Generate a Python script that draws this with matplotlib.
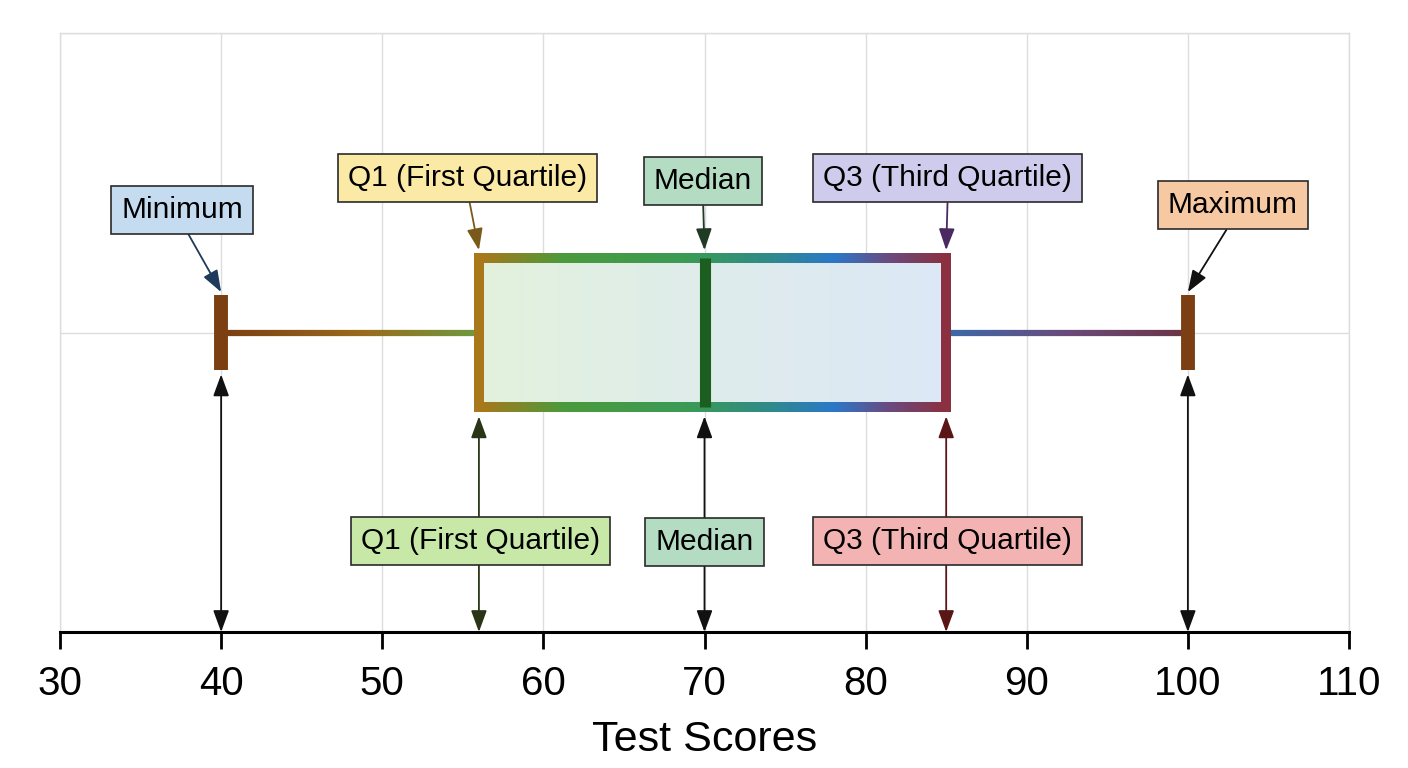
import numpy as np
import matplotlib
matplotlib.use("Agg")
import matplotlib.pyplot as plt
from matplotlib.collections import LineCollection
from matplotlib.colors import LinearSegmentedColormap

# five number summary
stat_names = ["Minimum", "Q1", "Median", "Q3", "Maximum"]
stat_values = [40, 56, 70, 85, 100]
x_ticks = [30, 40, 50, 60, 70, 80, 90, 100, 110]
x_label = "Test Scores"

top_texts = ["Minimum", "Q1 (First Quartile)", "Median", "Q3 (Third Quartile)", "Maximum"]
bottom_texts = ["Q1 (First Quartile)", "Median", "Q3 (Third Quartile)"]

vmin, q1, med, q3, vmax = stat_values

# layout / style (not data)
top_pos = [(37.6, 1.41), (55.3, 1.515), (69.9, 1.505), (85.1, 1.515), (102.8, 1.425)]
top_face = ["#c5dcf0", "#fbe9a6", "#b3dcc2", "#cfcbec", "#f6c9a3"]
top_arrow = ["#1f3a5a", "#7a5a1a", "#1f3a25", "#4a2a60", "#111111"]
bottom_face = ["#c8e8a8", "#b3dcc2", "#f3b3b3"]
bottom_arrow = ["#2a3518", "#111111", "#5a1515"]
box_lo, box_hi = 0.75, 1.25
cap_half = 0.125

label_font = ["Liberation Sans Narrow", "Liberation Sans", "DejaVu Sans"]
plt.rcParams["font.family"] = ["Liberation Sans", "DejaVu Sans"]


def grad_line(ax, x0, x1, y, colors, lw, n=300, z=3):
    xs = np.linspace(x0, x1, n + 1)
    segs = [[(xs[i], y), (xs[i + 1], y)] for i in range(n)]
    cmap = LinearSegmentedColormap.from_list("g", colors)
    lc = LineCollection(segs, colors=cmap(np.linspace(0, 1, n)),
                        linewidths=lw, capstyle="butt", zorder=z)
    ax.add_collection(lc)


fig = plt.figure(figsize=(14.08, 7.68), dpi=100)
ax = fig.add_axes([60 / 1408, 136 / 768, 1289 / 1408, 599 / 768])

# box fill gradient
fill_cmap = LinearSegmentedColormap.from_list("fill", ["#e2f2dc", "#dfecec", "#dce8f6"])
ax.imshow(np.linspace(0, 1, 256)[None, :], extent=[q1, q3, box_lo, box_hi],
          aspect="auto", cmap=fill_cmap, zorder=2, interpolation="bilinear")

# whiskers
grad_line(ax, vmin, q1, 1.0, [(0, "#7a3e12"), (0.55, "#9a6a1c"), (1, "#6e9a3e")], 4.5)
grad_line(ax, q3, vmax, 1.0, [(0, "#3a6aaa"), (0.5, "#6a4a7a"), (1, "#6a3545")], 4.5)

# box edges
edge_cols = [(0, "#a8781a"), (0.18, "#4a9a3c"), (0.45, "#3a9a55"), (0.62, "#2f8a88"),
             (0.76, "#2a78c8"), (0.88, "#6a4a80"), (1, "#8a3040")]
grad_line(ax, q1, q3, box_hi, edge_cols, 7.2, z=4)
grad_line(ax, q1, q3, box_lo, edge_cols, 7.2, z=4)
ax.plot([q1, q1], [box_lo, box_hi], color="#a8781a", lw=7.2, solid_capstyle="projecting", zorder=4)
ax.plot([q3, q3], [box_lo, box_hi], color="#8a3040", lw=7.2, solid_capstyle="projecting", zorder=4)

# median
ax.plot([med, med], [box_lo, box_hi], color="#1b5e20", lw=8, solid_capstyle="butt", zorder=5)

# caps
for v in (vmin, vmax):
    ax.plot([v, v], [1 - cap_half, 1 + cap_half], color="#7b3f12", lw=10,
            solid_capstyle="butt", zorder=4)

astyle = "-|>,head_length=0.6,head_width=0.22"
dstyle = "<|-|>,head_length=0.6,head_width=0.22"

# top labels with arrows
top_targets = [(vmin, 1 + cap_half + 0.01), (q1, box_hi + 0.025), (med, box_hi + 0.025),
               (q3, box_hi + 0.025), (vmax, 1 + cap_half + 0.01)]
for txt, pos, tgt, fc, ac in zip(top_texts, top_pos, top_targets, top_face, top_arrow):
    ax.annotate(txt, xy=tgt, xytext=pos, ha="center", va="center", fontsize=21.5,
                family=label_font, zorder=7,
                bbox=dict(boxstyle="square,pad=0.34", fc=fc, ec="#2a2a2a", lw=1.2),
                arrowprops=dict(arrowstyle=astyle, color=ac, lw=1.3, mutation_scale=22,
                                shrinkA=0, shrinkB=0, relpos=(0.5, 0)))

# bottom double arrows from axis up to the plot
for v in (vmin, vmax):
    ax.annotate("", xy=(v, 1 - cap_half - 0.015), xytext=(v, 0.0),
                arrowprops=dict(arrowstyle=dstyle, color="#111111", lw=1.3,
                                mutation_scale=22, shrinkA=0, shrinkB=0), zorder=4)

bottom_x = [q1, med, q3]
bottom_pos = [(56.1, 0.304), (70.0, 0.30), (85.1, 0.304)]
for v, txt, pos, fc, ac in zip(bottom_x, bottom_texts, bottom_pos, bottom_face, bottom_arrow):
    ax.annotate("", xy=(v, box_lo - 0.03), xytext=(v, 0.0),
                arrowprops=dict(arrowstyle=dstyle, color=ac, lw=1.3,
                                mutation_scale=22, shrinkA=0, shrinkB=0), zorder=4)
    ax.text(pos[0], pos[1], txt, ha="center", va="center", fontsize=21.5,
            family=label_font, zorder=7,
            bbox=dict(boxstyle="square,pad=0.34", fc=fc, ec="#2a2a2a", lw=1.2))

# axes styling
ax.set_xlim(30, 110)
ax.set_ylim(0, 2)
ax.set_xticks(x_ticks)
ax.set_yticks([0, 1, 2])
ax.set_yticklabels([])
ax.tick_params(axis="y", length=0)
ax.tick_params(axis="x", direction="out", length=12, width=2, labelsize=29, pad=12)
ax.grid(True, color="#dddddd", lw=1.0, zorder=0)
ax.set_axisbelow(True)
for s in ("top", "left", "right"):
    ax.spines[s].set_color("#dddddd")
    ax.spines[s].set_linewidth(1.0)
ax.spines["bottom"].set_color("black")
ax.spines["bottom"].set_linewidth(2.2)
ax.set_xlabel(x_label, fontsize=31, labelpad=12)

fig.savefig("out.png", dpi=100)
